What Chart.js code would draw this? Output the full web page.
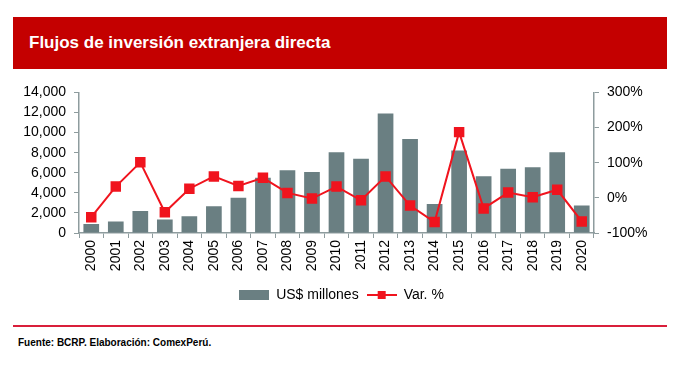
<!DOCTYPE html>
<html>
<head>
<meta charset="utf-8">
<script src="https://cdn.jsdelivr.net/npm/chart.js@4"></script>
<style>
  body { margin: 0; width: 683px; height: 365px; background: #fff; position: relative; overflow: hidden; font-family: "Liberation Sans", Arial, sans-serif; }
  #banner { position: absolute; left: 13px; top: 17px; width: 654px; height: 52px; background: #c40000; }
  #banner span { position: absolute; left: 16px; top: 0; line-height: 52px; color: #fff; font-weight: bold; font-size: 17px; }
  #chartBox { position: absolute; left: 0; top: 76px; width: 683px; height: 236px; }
  #rule { position: absolute; left: 13px; top: 325px; width: 654px; height: 2px; background: #d91f3a; }
  #source { position: absolute; left: 18px; top: 337px; font-size: 10px; font-weight: bold; color: #000; }
</style>
</head>
<body>
<div id="banner"><span>Flujos de inversión extranjera directa</span></div>
<div id="chartBox"><canvas id="fdiChart"></canvas></div>
<div id="rule"></div>
<div id="source">Fuente: BCRP. Elaboración: ComexPerú.</div>
<script>
// DATOS
const years = ['2000','2001','2002','2003','2004','2005','2006','2007','2008','2009','2010',
               '2011','2012','2013','2014','2015','2016','2017','2018','2019','2020'];
const fdiMillions = [890,1150,2200,1350,1680,2660,3520,5490,6240,6080,8050,
                     7390,11900,9370,2890,8210,5650,6410,6540,8050,2730];
const varPercent = [-55,32,101,-41,26,61,34,57,14,-2,32,
                    -7,61,-22,-69,187,-30,15,2,23,-67];
const leftTicks = [0,2000,4000,6000,8000,10000,12000,14000];
const rightTicks = [-100,0,100,200,300];

const barColor = '#6a7f82';
const lineColor = '#f0141e';
const axisColor = '#8e9c9e';
const tickFont = { family: '"Liberation Sans", Arial, sans-serif', size: 14 };

// iconos de leyenda
function makeIcon(kind){
    const c = document.createElement('canvas');
    c.width = 30; c.height = 10;
    const g = c.getContext('2d');
    if(kind === 'bar'){
        g.fillStyle = barColor;
        g.fillRect(0,0,30,10);
    } else {
        g.strokeStyle = lineColor;
        g.lineWidth = 2;
        g.beginPath(); g.moveTo(0,5); g.lineTo(30,5); g.stroke();
        g.fillStyle = lineColor;
        g.fillRect(11,1,8,8);
    }
    return c;
}
const icons = [makeIcon('bar'), makeIcon('line')];

const ctx = document.getElementById('fdiChart');

new Chart(ctx, {
    data: {
        labels: years,
        datasets: [
            {
                type: 'bar',
                label: 'US$ millones',
                data: fdiMillions,
                backgroundColor: barColor,
                barPercentage: 0.64,
                categoryPercentage: 1,
                yAxisID: 'y',
                order: 2
            },
            {
                type: 'line',
                label: 'Var. %',
                data: varPercent,
                borderColor: lineColor,
                backgroundColor: lineColor,
                borderWidth: 2,
                pointStyle: 'rect',
                pointRadius: 6,
                pointHoverRadius: 6,
                tension: 0,
                yAxisID: 'y1',
                order: 1
            }
        ]
    },
    options: {
        responsive: true,
        maintainAspectRatio: false,
        animation: false,
        layout: { padding: { top: 7, left: 0, right: 0, bottom: 0 } },
        plugins: {
            tooltip: { enabled: false },
            legend: {
                position: 'bottom',
                labels: {
                    color: '#000',
                    font: tickFont,
                    usePointStyle: true,
                    pointStyleWidth: 30,
                    padding: 8,
                    sort: (a, b) => a.datasetIndex - b.datasetIndex,
                    generateLabels: (chart) => {
                        const items = Chart.defaults.plugins.legend.labels.generateLabels(chart);
                        items.forEach(it => { it.pointStyle = icons[it.datasetIndex]; });
                        return items;
                    }
                }
            }
        },
        scales: {
            x: {
                offset: true,
                grid: { display: true, drawOnChartArea: false, offset: true, color: axisColor, tickLength: 5 },
                border: { display: true, color: axisColor, width: 1.5 },
                ticks: { color: '#000', font: tickFont, minRotation: 90, maxRotation: 90, padding: 2, autoSkip: false },
                afterFit: (s) => { s.height = 47; }
            },
            y: {
                position: 'left',
                min: 0, max: 14000,
                afterBuildTicks: (s) => { s.ticks = leftTicks.map(v => ({ value: v })); },
                grid: { display: true, drawOnChartArea: false, color: axisColor, tickLength: 5 },
                border: { display: true, color: axisColor, width: 1.5 },
                ticks: {
                    color: '#000', font: tickFont, padding: 8, autoSkip: false,
                    callback: (v) => v.toLocaleString('en-US')
                },
                afterFit: (s) => { s.width = 79; }
            },
            y1: {
                position: 'right',
                min: -100, max: 300,
                afterBuildTicks: (s) => { s.ticks = rightTicks.map(v => ({ value: v })); },
                grid: { display: true, drawOnChartArea: false, color: axisColor, tickLength: 5 },
                border: { display: true, color: axisColor, width: 1.5 },
                ticks: {
                    color: '#000', font: tickFont, padding: 8, autoSkip: false,
                    callback: (v) => v + '%'
                },
                afterFit: (s) => { s.width = 89; }
            }
        }
    }
});
</script>
</body>
</html>
